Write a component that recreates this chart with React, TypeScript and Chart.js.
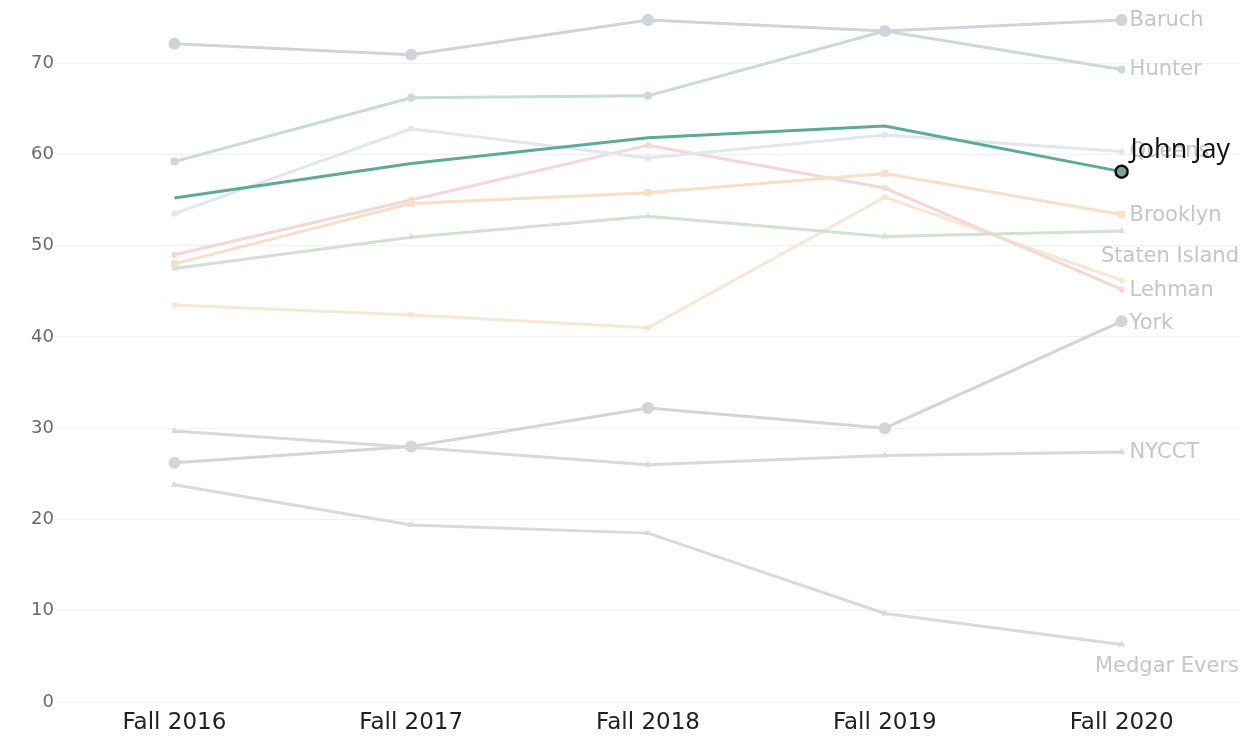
import React, { useEffect, useRef } from "react";
import { Chart, registerables } from "chart.js";

Chart.register(...registerables);

const categories = ["Fall 2016", "Fall 2017", "Fall 2018", "Fall 2019", "Fall 2020"];

const johnJay = [55.2, 59.0, 61.8, 63.1, 58.1];
const baruch = [72.1, 70.9, 74.7, 73.5, 74.7];
const hunter = [59.2, 66.2, 66.4, 73.5, 69.3];
const queens = [53.5, 62.8, 59.6, 62.1, 60.3];
const brooklyn = [48.0, 54.6, 55.8, 57.9, 53.4];
const statenIsland = [47.5, 50.9, 53.2, 51.0, 51.6];
const lehman = [49.0, 55.0, 61.0, 56.3, 45.2];
const city = [43.5, 42.4, 41.0, 55.3, 46.2];
const york = [26.2, 28.0, 32.2, 30.0, 41.7];
const nycct = [29.7, 27.9, 26.0, 27.0, 27.4];
const medgarEvers = [23.8, 19.4, 18.5, 9.7, 6.3];

const yTicks = [0, 10, 20, 30, 40, 50, 60, 70];

// label vertical offsets (px) for end-of-line labels
const labelShift: Record<string, number> = {
  Baruch: 0,
  Hunter: 0,
  Queens: 0,
  Brooklyn: 1,
  "Staten Island": 26,
  Lehman: 1,
  York: 2,
  NYCCT: 1,
  "Medgar Evers": 22,
};

const endLabels = {
  id: "endLabels",
  afterDatasetsDraw(chart: any) {
    const ctx = chart.ctx;
    ctx.save();
    chart.data.datasets.forEach((ds: any, i: number) => {
      const meta = chart.getDatasetMeta(i);
      const pt = meta.data[meta.data.length - 1];
      if (!pt) return;
      if (ds.label === "John Jay") return;
      if (!(ds.label in labelShift)) return;
      ctx.font = "21px 'DejaVu Sans', sans-serif";
      ctx.fillStyle = "#c6c6c6";
      ctx.textBaseline = "middle";
      const w = ctx.measureText(ds.label).width;
      let x = pt.x + 8;
      if (x + w > chart.width - 1) x = chart.width - 1 - w;
      ctx.textAlign = "left";
      ctx.fillText(ds.label, x, pt.y + labelShift[ds.label]);
    });
    const jjIndex = chart.data.datasets.findIndex((d: any) => d.label === "John Jay");
    if (jjIndex >= 0) {
      const meta = chart.getDatasetMeta(jjIndex);
      const pt = meta.data[meta.data.length - 1];
      ctx.font = "27px 'Open Sans', sans-serif";
      ctx.fillStyle = "#111111";
      ctx.textAlign = "left";
      ctx.textBaseline = "alphabetic";
      ctx.fillText("John Jay", pt.x + 9, pt.y - 14);
    }
    ctx.restore();
  },
};

function faded(label: string, data: number[], color: string, style: string = "circle", radius = 4) {
  return {
    label,
    data,
    borderColor: color,
    backgroundColor: color,
    borderWidth: 3,
    pointRadius: radius,
    pointStyle: style,
    pointBorderWidth: 0,
    tension: 0,
  };
}

export default function App() {
  const ref = useRef<HTMLCanvasElement | null>(null);

  useEffect(() => {
    if (!ref.current) return;
    const chart = new Chart(ref.current, {
      type: "line",
      data: {
        labels: categories,
        datasets: [
          {
            label: "John Jay",
            data: johnJay,
            borderColor: "#5cab95",
            backgroundColor: "#7aa594",
            borderWidth: 3,
            pointRadius: [0, 0, 0, 0, 6],
            pointBorderColor: "#111111",
            pointBorderWidth: 2.5,
            tension: 0,
          },
          faded("Baruch", baruch, "#cfd4dc", "circle", 6),
          faded("Hunter", hunter, "#cadad4", "circle", 4),
          faded("Queens", queens, "#e0e7ef", "circle", 3),
          faded("Brooklyn", brooklyn, "#f6e0c8", "rect", 5),
          faded("Staten Island", statenIsland, "#d1e2d2", "triangle", 4),
          faded("Lehman", lehman, "#f4d8d8", "circle", 3),
          faded("City", city, "#f7e8d4", "circle", 3),
          faded("York", york, "#d5d5d5", "circle", 6),
          faded("NYCCT", nycct, "#d9d9d9", "triangle", 4),
          faded("Medgar Evers", medgarEvers, "#dadada", "triangle", 4),
        ],
      },
      options: {
        animation: false,
        responsive: false,
        layout: { padding: 0, autoPadding: false },
        plugins: {
          legend: { display: false },
          tooltip: { enabled: false },
        },
        scales: {
          x: {
            offset: true,
            grid: { display: false, drawTicks: false },
            border: { display: false },
            ticks: {
              color: "#222222",
              font: { size: 23, family: "'DejaVu Sans', sans-serif" },
              padding: 7,
              maxRotation: 0,
            },
            afterFit: (s: any) => {
              s.height = 34;
            },
          },
          y: {
            min: 0,
            max: 75.5,
            grid: { color: "#f1f1f1", lineWidth: 1, drawTicks: false },
            border: { display: false },
            ticks: {
              color: "#6a6a6a",
              font: { size: 18, family: "'DejaVu Sans', sans-serif" },
              padding: 2,
            },
            afterBuildTicks: (s: any) => {
              s.ticks = yTicks.map((v) => ({ value: v }));
            },
            afterFit: (s: any) => {
              s.width = 56;
            },
          },
        },
      },
      plugins: [endLabels],
    });
    return () => chart.destroy();
  }, []);

  return (
    <div style={{ position: "absolute", left: 0, top: 0, width: 1240, height: 736, background: "#ffffff" }}>
      <canvas ref={ref} width={1240} height={736} />
    </div>
  );
}
